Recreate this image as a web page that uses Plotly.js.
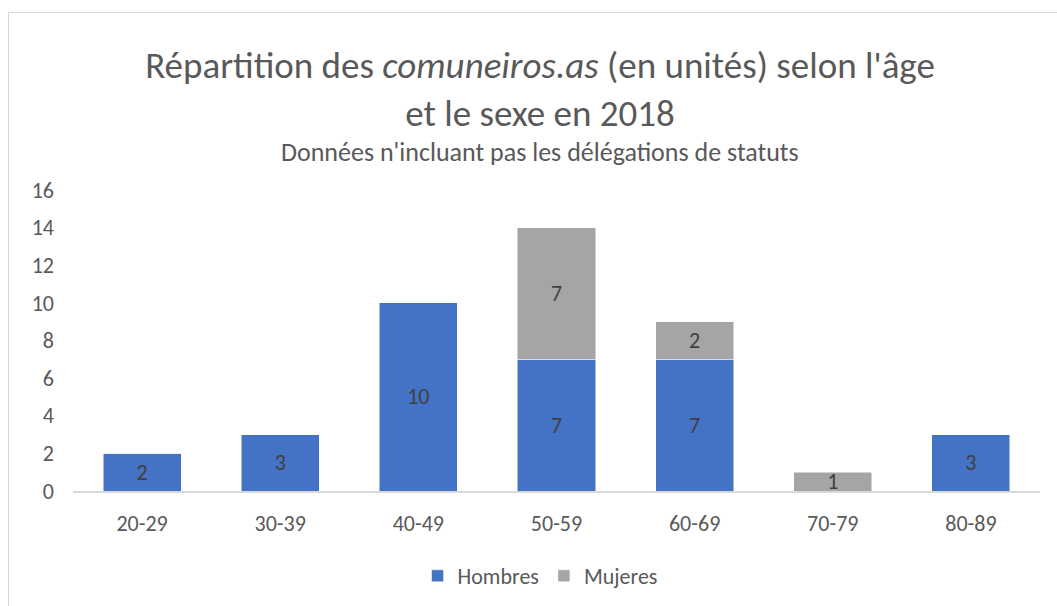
<!DOCTYPE html>
<html>
<head>
<meta charset="utf-8">
<script src="https://cdn.plot.ly/plotly-3.0.1.min.js"></script>
<style>
  html, body { margin: 0; padding: 0; background: #ffffff; }
  #wrap { position: relative; width: 1057px; height: 606px; overflow: hidden; }
  #frame { position: absolute; left: 8px; top: 12px; width: 1100px; height: 700px;
           border-left: 1.5px solid #D9D9D9; border-top: 1.5px solid #D9D9D9; box-sizing: border-box; }
  #chart { position: absolute; left: 0; top: 0; width: 1057px; height: 606px; }
</style>
</head>
<body>
<div id="wrap">
  <div id="frame"></div>
  <div id="chart"></div>
</div>
<script>
const categories = ["20-29", "30-39", "40-49", "50-59", "60-69", "70-79", "80-89"];
const hombres = [2, 3, 10, 7, 7, 0, 3];
const mujeres = [0, 0, 0, 7, 2, 1, 0];
const seriesNames = ["Hombres", "Mujeres"];
const yTicks = [0, 2, 4, 6, 8, 10, 12, 14, 16];

const FONT = "Carlito, Lato, 'Open Sans', sans-serif";
const labelText = arr => arr.map(v => v > 0 ? String(v) : "");

const traces = [
  {
    type: "bar", name: seriesNames[0], x: categories, y: hombres,
    marker: { color: "#4472C4", line: { color: "#FFFFFF", width: 0.5 } },
    text: labelText(hombres), textposition: "inside", insidetextanchor: "middle",
    textangle: 0, constraintext: "none", textfont: { family: FONT, size: 22, color: "#404040" },
    hoverinfo: "x+y+name"
  },
  {
    type: "bar", name: seriesNames[1], x: categories, y: mujeres,
    marker: { color: "#A5A5A5", line: { color: "#FFFFFF", width: 0.5 } },
    text: labelText(mujeres), textposition: "inside", insidetextanchor: "middle",
    textangle: 0, constraintext: "none", textfont: { family: FONT, size: 22, color: "#404040" },
    hoverinfo: "x+y+name"
  }
];

const layout = {
  width: 1057, height: 606,
  paper_bgcolor: "rgba(0,0,0,0)", plot_bgcolor: "rgba(0,0,0,0)",
  font: { family: FONT, color: "#595959", size: 22 },
  margin: { l: 73, r: 17, t: 190, b: 115, autoexpand: false },
  barmode: "stack",
  bargap: 0.435,
  title: {
    text: "Répartition des <i>comuneiros.as</i> (en unités) selon l'âge<br>et le sexe en 2018",
    font: { family: FONT, size: 37, color: "#595959", weight: 300 },
    x: 540 / 1057, xref: "container", xanchor: "center",
    y: 1 - 78 / 606, yref: "container", yanchor: "top"
  },
  annotations: [{
    text: "Données n'incluant pas les délégations de statuts",
    xref: "paper", yref: "paper", x: (540 - 73) / 967, y: (491 - 152) / 301,
    xanchor: "center", yanchor: "middle", showarrow: false,
    font: { family: FONT, size: 26, color: "#595959", weight: 300 }
  }],
  xaxis: {
    type: "category", showgrid: false, zeroline: false,
    showline: true, linecolor: "#D9D9D9", linewidth: 1.5,
    ticks: "", ticklabelstandoff: 12,
    tickfont: { family: FONT, size: 22, color: "#595959" }
  },
  yaxis: {
    range: [0, 16], tickvals: yTicks, ticktext: yTicks.map(String),
    showgrid: false, zeroline: false, showline: false, ticks: "",
    ticklabelstandoff: 18,
    tickfont: { family: FONT, size: 22, color: "#595959" }
  },
  showlegend: true,
  legend: {
    orientation: "h", x: 0.483, xanchor: "center", y: (491 - 576) / 301, yanchor: "middle",
    font: { family: FONT, size: 22, color: "#595959" },
    traceorder: "normal", itemwidth: 30
  }
};

Plotly.newPlot("chart", traces, layout, { displayModeBar: false, staticPlot: true });
</script>
</body>
</html>
